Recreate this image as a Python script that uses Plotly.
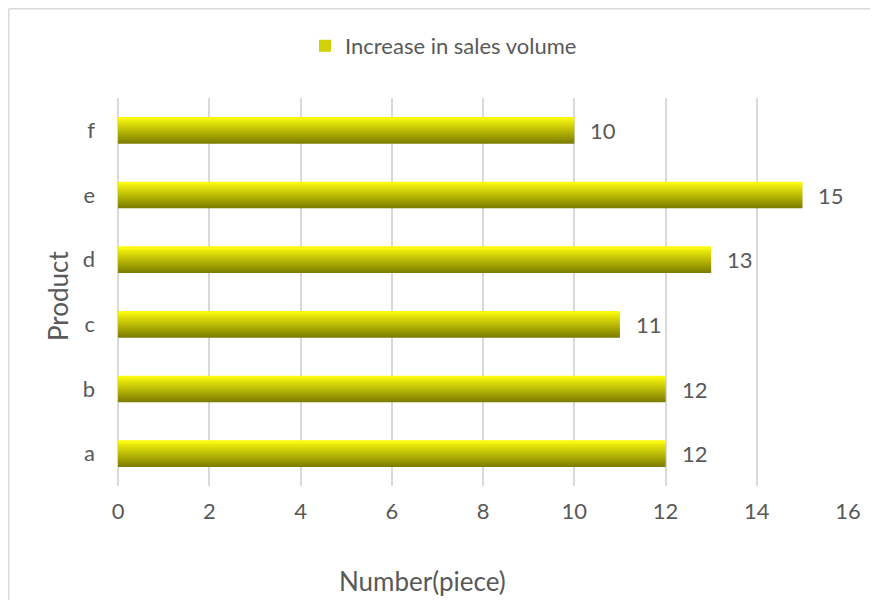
import plotly.graph_objects as go

categories = ["a", "b", "c", "d", "e", "f"]
values = [12, 12, 11, 13, 15, 10]
series_name = "Increase in sales volume"
x_ticks = [0, 2, 4, 6, 8, 10, 12, 14, 16]
x_title = "Number(piece)"
y_title = "Product"

FONT = "Lato"
TXT = "#595959"
GRID = "#d9d9d9"
FS = 22
FS_TITLE = 26

top_rgb = (250, 250, 14)
bot_rgb = (126, 126, 0)
N = 16
bar_w = 0.412
strip = bar_w / N

fig = go.Figure()
for k in range(N):
    t = k / (N - 1)
    c = tuple(round(bot_rgb[i] + (top_rgb[i] - bot_rgb[i]) * t) for i in range(3))
    w = strip if k == N - 1 else strip * 1.6
    fig.add_trace(go.Bar(
        x=values, y=categories, orientation="h",
        width=w, offset=-bar_w / 2 + k * strip,
        marker=dict(color="rgb(%d,%d,%d)" % c, line=dict(width=0)),
        name=series_name, showlegend=(k == N // 2 + 2),
        hoverinfo="skip",
    ))

for v, cat in zip(values, categories):
    fig.add_annotation(x=v, y=cat, text=str(v), showarrow=False,
                       xanchor="left", yanchor="middle", xshift=14,
                       font=dict(family=FONT, size=FS, color=TXT))

# page has an 8px body margin; figure origin sits at (8, 8)
W, H = 878, 600
L, R, T, B = 110, 38, 90, 122
pw, ph = W - L - R, H - T - B

def px_x(p):
    return (p - L) / pw

def px_y(p):
    return (H - B - p) / ph

# chart-area border (only top and left edges fall inside the window)
fig.add_shape(type="line", xref="paper", yref="paper",
              x0=px_x(0.75), x1=px_x(W), y0=px_y(0.75), y1=px_y(0.75),
              line=dict(color=GRID, width=1.5), layer="below")
fig.add_shape(type="line", xref="paper", yref="paper",
              x0=px_x(0.75), x1=px_x(0.75), y0=px_y(0.75), y1=px_y(H),
              line=dict(color=GRID, width=1.5), layer="below")

fig.add_annotation(xref="paper", yref="paper", x=px_x(414), y=px_y(573),
                   text=x_title, showarrow=False, xanchor="center", yanchor="middle",
                   font=dict(family=FONT, size=FS_TITLE, color=TXT))
fig.add_annotation(xref="paper", yref="paper", x=px_x(50), y=px_y(288),
                   text=y_title, showarrow=False, xanchor="center", yanchor="middle",
                   textangle=-90,
                   font=dict(family=FONT, size=FS_TITLE, color=TXT))

fig.update_layout(
    width=W, height=H,
    margin=dict(l=L, r=R, t=T, b=B),
    paper_bgcolor="white", plot_bgcolor="white",
    barmode="overlay",
    font=dict(family=FONT, size=FS, color=TXT),
    showlegend=True,
    legend=dict(orientation="h", x=px_x(297), xanchor="left", y=px_y(38), yanchor="middle",
                font=dict(family=FONT, size=FS, color=TXT), bgcolor="rgba(0,0,0,0)"),
    xaxis=dict(range=[0, 16], tickvals=x_ticks, ticktext=[str(t) for t in x_ticks],
               showgrid=True, gridcolor=GRID, gridwidth=1.5,
               zeroline=True, zerolinecolor=GRID, zerolinewidth=1.5,
               showline=False, ticks="", ticklabelstandoff=10,
               tickfont=dict(family=FONT, size=FS, color=TXT)),
    yaxis=dict(type="category", categoryorder="array", categoryarray=categories,
               range=[-0.5, 5.5], showgrid=False, zeroline=False, showline=False,
               ticks="", ticklabelstandoff=22,
               tickfont=dict(family=FONT, size=FS, color=TXT)),
)

fig.write_html("out.html")
